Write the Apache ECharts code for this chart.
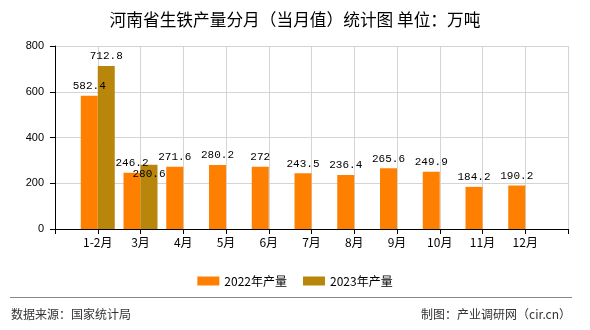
<!DOCTYPE html>
<html>
<head>
<meta charset="utf-8">
<script src="https://cdn.jsdelivr.net/npm/echarts@6/dist/echarts.min.js"></script>
<style>html,body{margin:0;padding:0;background:#fff;}#c{width:590px;height:330px;}</style>
</head>
<body>
<div id="c"></div>
<script>
var titleText = '河南省生铁产量分月（当月值）统计图 单位：万吨';
var categories = ['1-2月', '3月', '4月', '5月', '6月', '7月', '8月', '9月', '10月', '11月', '12月'];
var values2022 = [582.4, 246.2, 271.6, 280.2, 272, 243.5, 236.4, 265.6, 249.9, 184.2, 190.2];
var values2023 = [712.8, 280.6];
var seriesNames = ['2022年产量', '2023年产量'];
var yTicks = [0, 200, 400, 600, 800];
var sourceText = '数据来源：国家统计局';
var makerText = '制图：产业调研网（cir.cn）';

var axisCats = [''].concat(categories).concat(['']);
function pad(arr) {
  var out = [null];
  for (var i = 0; i < categories.length; i++) out.push(i < arr.length ? arr[i] : null);
  out.push(null);
  return out;
}
var d2022 = pad(values2022);
var d2023 = pad(values2023).map(function (v, i) {
  if (i === 2 && v != null) return { value: v, label: { offset: [0, 19] } };
  return v;
});

var labelStyle = { show: true, position: 'top', distance: 4, color: '#000', fontSize: 11, fontFamily: 'Liberation Mono, monospace' };

var chart = echarts.init(document.getElementById('c'), null, { renderer: 'canvas' });
chart.setOption({
  animation: false,
  backgroundColor: '#fff',
  title: {
    text: titleText, left: 'center', top: 6,
    textStyle: { fontSize: 16.7, fontWeight: 'normal', color: '#000', fontFamily: 'Noto Sans CJK SC' }
  },
  legend: {
    top: 270, left: 'center', itemWidth: 22, itemHeight: 9, itemGap: 16,
    icon: 'rect',
    textStyle: { fontSize: 12, color: '#000', fontFamily: 'Noto Sans CJK SC' },
    data: seriesNames
  },
  grid: { left: 55, right: 22, top: 46, bottom: 101, containLabel: false },
  xAxis: {
    type: 'category', boundaryGap: false, data: axisCats,
    axisLine: { lineStyle: { color: '#000', width: 1 } },
    axisTick: { interval: 0, length: 5, lineStyle: { color: '#000' } },
    axisLabel: { interval: 0, margin: 7, color: '#000', fontSize: 12, fontFamily: 'Noto Sans CJK SC' },
    splitLine: { show: true, interval: 0, lineStyle: { color: '#d4d4d4' } }
  },
  yAxis: {
    type: 'value', min: yTicks[0], max: yTicks[yTicks.length - 1], interval: 200,
    axisLine: { show: true, lineStyle: { color: '#000', width: 1 } },
    axisTick: { show: true, length: 5, lineStyle: { color: '#000' } },
    axisLabel: { margin: 11, color: '#000', fontSize: 11, fontFamily: 'Liberation Sans' },
    splitLine: { show: true, lineStyle: { color: '#d4d4d4' } }
  },
  series: [
    { name: seriesNames[0], type: 'bar', data: d2022, barWidth: 17, barGap: '0%', itemStyle: { color: '#FF8000' }, label: labelStyle },
    { name: seriesNames[1], type: 'bar', data: d2023, barWidth: 17, barGap: '0%', itemStyle: { color: '#B8860B' }, label: labelStyle }
  ],
  graphic: [
    { type: 'line', shape: { x1: 10, y1: 297.5, x2: 572, y2: 297.5 }, style: { stroke: '#888', lineWidth: 1 } },
    { type: 'text', left: 11, top: 308, style: { text: sourceText, fill: '#333', fontSize: 12, fontFamily: 'Noto Sans CJK SC' } },
    { type: 'text', right: 19, top: 308, style: { text: makerText, fill: '#333', fontSize: 12, fontFamily: 'Noto Sans CJK SC' } }
  ]
});
</script>
</body>
</html>
